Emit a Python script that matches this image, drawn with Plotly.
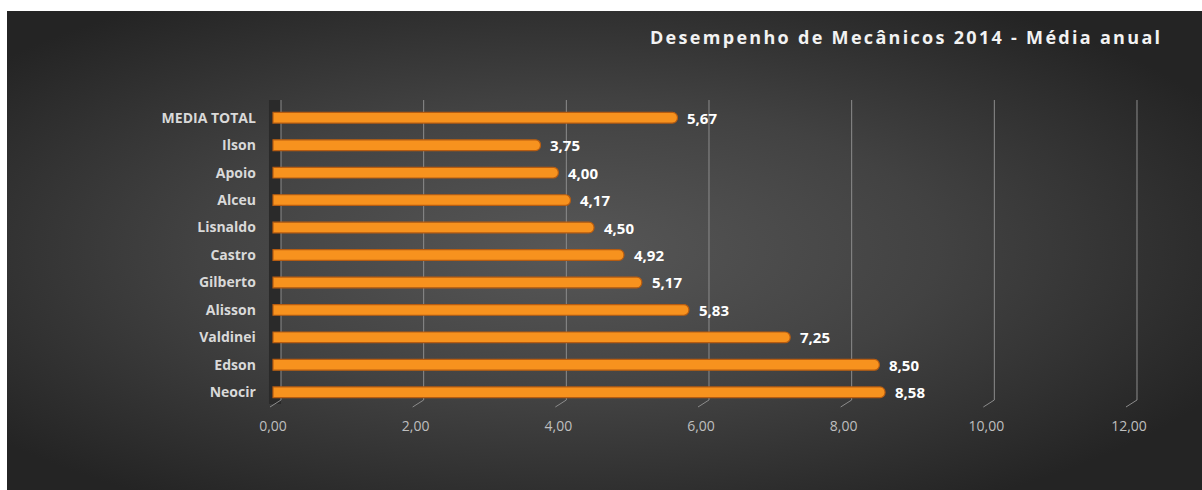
import base64
import plotly.graph_objects as go

categories = ["MEDIA TOTAL", "Ilson", "Apoio", "Alceu", "Lisnaldo", "Castro",
              "Gilberto", "Alisson", "Valdinei", "Edson", "Neocir"]
values = [5.67, 3.75, 4.00, 4.17, 4.50, 4.92, 5.17, 5.83, 7.25, 8.50, 8.58]
tick_values = [0, 2, 4, 6, 8, 10, 12]
title_text = "Desempenho de Mecânicos 2014 - Média anual"

W, H = 1202, 490

def px_x(p):
    return p / W

def px_y(p):
    return 1 - p / H

# axis pixel frame: value 0 at 273px, value 12 at 1129px
X_MIN, X_MAX = -0.1, 12.15
unit = (1129 - 273) / 12
dom_left = 273 + X_MIN * unit
dom_right = 1129 + (X_MAX - 12) * unit

# background radial gradient (decorative)
svg = ("<svg xmlns='http://www.w3.org/2000/svg' width='1195' height='479' viewBox='0 0 1195 479' "
       "preserveAspectRatio='none'><defs><radialGradient id='g' cx='0.47' cy='0.5' r='0.62'>"
       "<stop offset='0' stop-color='#575757'/><stop offset='0.5' stop-color='#424242'/>"
       "<stop offset='1' stop-color='#242424'/></radialGradient></defs>"
       "<rect width='1195' height='479' fill='url(#g)'/></svg>")
bg_src = "data:image/svg+xml;base64," + base64.b64encode(svg.encode()).decode()

fig = go.Figure()
fig.add_trace(go.Bar(
    x=values, y=categories, orientation="h",
    width=0.39,
    marker=dict(color="#f7921e", line=dict(color="#b75c10", width=1.2)),
    hoverinfo="skip",
))

shapes = []
# left wall
shapes.append(dict(type="rect", xref="x", xsizemode="pixel", xanchor=0, x0=-4, x1=8,
                   yref="paper", y0=px_y(404), y1=px_y(100),
                   fillcolor="#2a2a2a", line=dict(width=0), layer="below"))
for v in tick_values:
    shapes.append(dict(type="line", xref="x", xsizemode="pixel", xanchor=v, x0=8, x1=8,
                       yref="paper", y0=px_y(400), y1=px_y(100),
                       line=dict(color="#8c8c8c", width=1), layer="below"))
    shapes.append(dict(type="line", xref="x", xsizemode="pixel", xanchor=v, x0=8, x1=-3,
                       yref="paper", y0=px_y(400), y1=px_y(407),
                       line=dict(color="#8c8c8c", width=1), layer="below"))

annotations = []
for c, v in zip(categories, values):
    annotations.append(dict(x=v, y=c, xref="x", yref="y", text=f"{v:.2f}".replace(".", ","),
                            showarrow=False, xanchor="left", yanchor="middle", xshift=8,
                            font=dict(family="Open Sans", size=15, color="#ffffff", weight="bold")))
annotations.append(dict(x=px_x(1164), y=px_y(37), xref="paper", yref="paper",
                        xanchor="right", yanchor="middle", showarrow=False,
                        text=f"<span style='letter-spacing:2.3px'>{title_text}</span>",
                        font=dict(family="Open Sans", size=18, color="#f2f2f2", weight="bold")))

fig.update_layout(
    width=W, height=H,
    margin=dict(l=0, r=0, t=0, b=0, autoexpand=False),
    paper_bgcolor="#ffffff",
    plot_bgcolor="rgba(0,0,0,0)",
    separators=",.",
    showlegend=False,
    barcornerradius=5,
    images=[dict(source=bg_src, xref="paper", yref="paper", x=px_x(7), y=1 - 11 / H,
                 sizex=1195 / W, sizey=479 / H, xanchor="left", yanchor="top",
                 sizing="stretch", layer="below")],
    shapes=shapes,
    annotations=annotations,
    xaxis=dict(domain=[px_x(dom_left), px_x(dom_right)], range=[X_MIN, X_MAX],
               tickvals=tick_values, tickformat=".2f", showgrid=False, zeroline=False,
               showline=False, ticks="", ticklabelstandoff=10, automargin=False,
               tickfont=dict(family="Open Sans", size=14, color="#bfbfbf")),
    yaxis=dict(domain=[px_y(406), px_y(104)], autorange="reversed", showgrid=False,
               zeroline=False, showline=False, ticks="", ticklabelstandoff=9,
               automargin=False,
               tickfont=dict(family="Open Sans", size=14, color="#d9d9d9", weight="bold")),
)

fig.write_html("out.html")
